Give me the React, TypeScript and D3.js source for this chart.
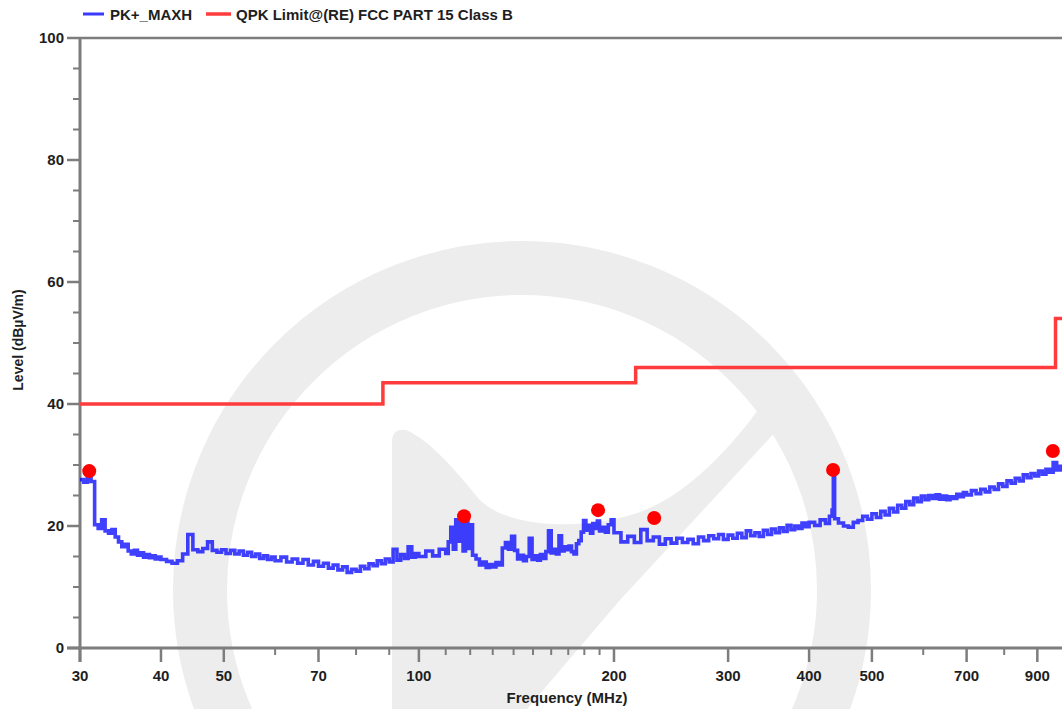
import React from "react";
import * as d3 from "d3";

const W = 1062;
const H = 709;

// Y axis ticks (dBµV/m)
const yMajorTicks = [0, 20, 40, 60, 80, 100];
const yMinorTicks = [5, 10, 15, 25, 30, 35, 45, 50, 55, 65, 70, 75, 85, 90, 95];
// X axis ticks (MHz)
const xMajorTicks = [30, 40, 50, 70, 100, 200, 300, 400, 500, 700, 900];
const xMinorTicks = [60, 80, 90, 110, 120, 130, 140, 150, 160, 170, 180, 190, 600, 800];

// Limit line: QPK Limit@(RE) FCC PART 15 Class B
const limitFreq = [30, 88, 216, 960, 1000];
const limitLevel = [40, 43.5, 46, 54, 54];

// PK+_MAXH trace
const traceFreq = [
  30.0, 30.4, 30.8, 31.2, 31.6, 32.0, 32.4, 32.8, 33.2, 33.6, 34.0, 34.4, 34.8, 35.2, 35.6, 36.0, 36.4, 36.8, 37.2, 37.6, 38.0, 38.4, 38.8, 39.2, 39.6,
  40.0, 40.8, 41.6, 42.4, 43.2, 44.0, 44.8, 45.6, 46.4, 47.2, 48.0, 48.8, 49.6, 50.4, 51.2, 52.0, 52.8, 53.6, 54.4, 55.2, 56.0, 56.8, 57.6, 58.4, 59.2,
  60, 61.25, 62.5, 63.75, 65, 66.25, 67.5, 68.75, 70, 71.25, 72.5, 73.75, 75, 76.25, 77.5, 78.75, 80, 81.25, 82.5, 83.75, 85, 86.25, 87.5, 88.75, 90, 91.25, 92.5, 93.75, 95, 96.25, 97.5, 98.75,
  100, 102.5, 105, 107.5, 110, 111, 112, 113, 114, 115, 116, 117, 118, 119, 120, 121, 122.5, 124, 125.5, 127, 128.5, 130, 131.5, 133, 134.5, 136, 137.5, 139, 140.5, 142, 143.5, 145, 146.5, 148, 149.5,
  151, 152.5, 154, 155.5, 157, 158.5, 160, 161.5, 163, 164.5, 166, 167.5, 169, 170.5, 172, 173.5, 175, 176.5, 178, 179.5, 181, 182.5, 184, 185.5, 187, 188.5, 190, 192, 194, 196, 198,
  200, 205, 210, 215, 220, 225, 230, 235, 240, 245, 250, 255, 260, 265, 270, 275, 280, 285, 290, 295, 300, 305, 310, 315, 320, 325, 330, 335, 340, 345, 350, 355, 360, 365, 370, 375, 380, 385, 390, 395,
  400, 408, 416, 424, 430, 434, 436, 438, 444, 452, 460, 468, 476, 484, 492, 500, 508, 516, 524, 532, 540, 548, 556, 564, 572, 580, 588, 596, 604, 612, 620, 628, 636, 644, 652, 660, 668, 676, 684, 692,
  700, 712, 724, 736, 748, 760, 772, 784, 796, 808, 820, 832, 844, 856, 868, 880, 892, 904, 916, 928, 940, 952, 964, 976, 988, 1000,
];
const traceLevel = [
  27.6, 27.2, 27.9, 27.3, 20.2, 19.6, 21.0, 19.2, 18.8, 19.4, 18.2, 17.4, 16.6, 17.0, 15.9, 15.4, 16.0, 15.2, 15.6, 14.9, 15.3, 14.8, 15.1, 14.6, 14.9,
  14.5, 14.2, 13.9, 14.3, 15.4, 18.6, 16.1, 15.8, 16.3, 17.4, 16.0, 15.7, 16.1, 15.5, 16.0, 15.4, 15.9, 15.2, 15.7, 15.0, 15.4, 14.7, 15.1, 14.5, 14.9,
  14.3, 14.9, 14.1, 14.6, 13.9, 14.5, 13.6, 14.2, 13.4, 13.9, 13.1, 13.6, 12.8, 13.3, 12.4, 12.9, 12.6, 13.4, 13.0, 13.8, 13.5, 14.3, 13.8, 14.6, 14.1, 16.2, 14.4, 15.3, 14.7, 16.6, 14.9, 15.5,
  15.0, 15.9, 15.1, 16.2, 15.5, 17.4, 19.8, 16.2, 21.0, 17.5, 21.2, 15.9, 21.0, 16.3, 20.2, 15.2, 14.6, 13.6, 14.1, 13.2, 13.7, 13.3, 14.0, 13.6, 16.4, 17.3, 16.2, 18.3, 16.0, 14.6, 15.2, 14.3, 15.0, 18.0, 14.5,
  15.1, 14.4, 15.3, 14.7, 15.8, 19.2, 15.6, 16.2, 15.4, 18.4, 15.9, 16.6, 16.1, 16.7, 15.8, 15.4, 17.1, 17.6, 19.0, 20.9, 19.3, 20.1, 18.8, 20.4, 19.6, 20.8, 19.2, 19.8, 19.0, 20.2, 21.0,
  18.9, 17.4, 18.3, 17.3, 19.4, 17.6, 18.2, 17.0, 17.9, 17.2, 18.0, 17.3, 17.8, 17.1, 18.2, 17.6, 18.4, 17.9, 18.6, 17.8, 18.5, 18.0, 18.8, 18.1, 19.2, 18.4, 18.9, 18.3, 19.3, 18.6, 19.5, 18.9, 19.7, 19.1, 20.1, 19.4, 20.0, 19.6, 20.5, 19.9,
  20.6, 20.1, 21.0, 20.4, 21.6, 22.6, 29.0, 21.2, 20.5, 20.0, 19.8, 20.6, 20.9, 21.6, 21.1, 22.0, 21.4, 22.4, 21.8, 22.9, 22.3, 23.4, 22.9, 24.0, 23.5, 24.6, 24.0, 24.9, 24.3, 25.0, 24.5, 25.1, 24.4, 24.9, 24.3, 24.8, 24.5, 25.2, 24.8, 25.5,
  25.1, 25.8, 25.3, 26.0, 25.6, 26.4, 26.0, 26.9, 26.5, 27.4, 27.0, 27.8, 27.4, 28.4, 27.9, 28.6, 28.2, 29.0, 28.5, 29.3, 28.8, 30.4, 29.2, 29.8, 29.4, 30.0,
];

// Final peak markers
const markerFreq = [31.0, 117.4, 189, 230.7, 435.6, 951];
const markerLevel = [29.0, 21.6, 22.6, 21.3, 29.2, 32.3];

const FONT = "'Liberation Sans', Arial, sans-serif";
const AXIS = "#7d7d7d";
const TEXT = "#1e1e1e";
const WM = "#ededed";

export default function App() {
  const x = d3.scaleLog().domain([30, 1000]).range([80, 1067]);
  const y = d3.scaleLinear().domain([0, 100]).range([648, 38]);

  const trace = traceFreq.map((f, i) => ({ f, v: traceLevel[i] }));
  const limit = limitFreq.map((f, i) => ({ f, v: limitLevel[i] }));

  const line = d3
    .line<{ f: number; v: number }>()
    .x((d) => x(d.f))
    .y((d) => y(d.v))
    .curve(d3.curveStepAfter);

  const x0 = x(30);
  const y0 = y(0);

  return (
    <svg
      width={W}
      height={H}
      style={{ position: "absolute", left: 0, top: 0, background: "#fff" }}
      fontFamily={FONT}
    >
      <rect x={0} y={0} width={W} height={H} fill="#fff" />
      {/* watermark */}
      <g>
        <circle cx={522} cy={590} r={322} fill="none" stroke={WM} strokeWidth={54} />
        <path
          d="M392,709 L392,442 Q392,428 406,430 C430,440 455,470 480,500 C510,530 590,530 640,512 C690,494 740,440 775,385 L805,400 L620,600 L527,709 Z"
          fill={WM}
        />
      </g>

      {/* top frame line */}
      <line x1={x0} x2={W} y1={y(100)} y2={y(100)} stroke={AXIS} strokeWidth={2.5} />

      {/* y ticks */}
      {yMinorTicks.map((t) => (
        <line key={"ym" + t} x1={73} x2={x0} y1={y(t)} y2={y(t)} stroke={AXIS} strokeWidth={2} />
      ))}
      {yMajorTicks.map((t) => (
        <g key={"yM" + t}>
          <line x1={67} x2={x0} y1={y(t)} y2={y(t)} stroke={AXIS} strokeWidth={2.5} />
          <text
            x={64}
            y={y(t)}
            dy="0.36em"
            textAnchor="end"
            fontSize={15}
            fontWeight="bold"
            fill={TEXT}
          >
            {t}
          </text>
        </g>
      ))}

      {/* x ticks */}
      {xMinorTicks.map((t) => (
        <line key={"xm" + t} x1={x(t)} x2={x(t)} y1={y0} y2={y0 + 7} stroke={AXIS} strokeWidth={2} />
      ))}
      {xMajorTicks.map((t) => (
        <g key={"xM" + t}>
          <line x1={x(t)} x2={x(t)} y1={y0} y2={y0 + 14} stroke={AXIS} strokeWidth={2.5} />
          <text
            x={x(t)}
            y={681}
            textAnchor="middle"
            fontSize={15}
            fontWeight="bold"
            fill={TEXT}
          >
            {t}
          </text>
        </g>
      ))}

      {/* axis lines */}
      <line x1={x0} x2={x0} y1={y(100)} y2={y0 + 14} stroke={AXIS} strokeWidth={3} />
      <line x1={67} x2={W} y1={y0} y2={y0} stroke={AXIS} strokeWidth={3} />

      {/* limit line */}
      <path d={line(limit) || ""} fill="none" stroke="#ff3b3b" strokeWidth={3.5} />

      {/* trace */}
      <path
        d={line(trace) || ""}
        fill="none"
        stroke="#0000ff"
        strokeWidth={3.6}
        strokeOpacity={0.75}
        strokeLinejoin="miter"
      />

      {/* markers */}
      {markerFreq.map((f, i) => (
        <circle key={"mk" + i} cx={x(f)} cy={y(markerLevel[i])} r={7} fill="#ff0000" />
      ))}

      {/* axis titles */}
      <text
        x={567}
        y={703}
        textAnchor="middle"
        fontSize={15}
        fontWeight="bold"
        fill={TEXT}
      >
        Frequency (MHz)
      </text>
      <text
        transform="translate(23,340) rotate(-90)"
        textAnchor="middle"
        fontSize={14}
        fontWeight="bold"
        fill={TEXT}
      >
        Level (dBµV/m)
      </text>

      {/* legend */}
      <line x1={83} x2={104} y1={14} y2={14} stroke="#3a3aff" strokeWidth={3} />
      <text x={110} y={19.5} fontSize={15} fontWeight="bold" fill={TEXT}>
        PK+_MAXH
      </text>
      <line x1={206} x2={231} y1={14} y2={14} stroke="#ff3b3b" strokeWidth={3.5} />
      <text x={236} y={19.5} fontSize={15} fontWeight="bold" fill={TEXT}>
        QPK Limit@(RE) FCC PART 15 Class B
      </text>
    </svg>
  );
}
